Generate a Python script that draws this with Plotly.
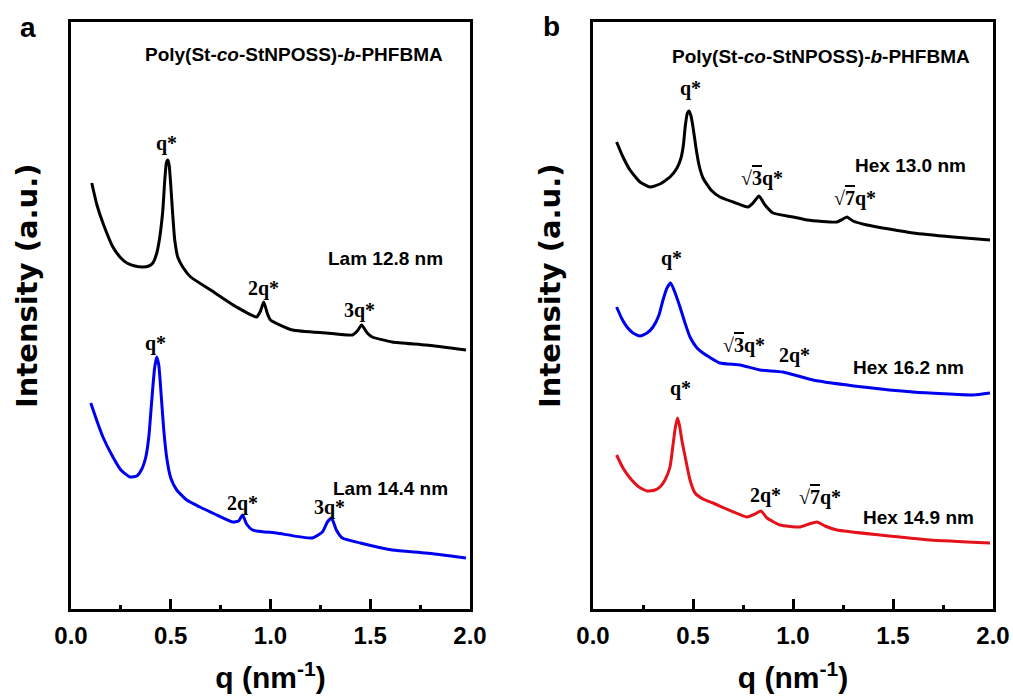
import plotly.graph_objects as go

# ---------------- data ----------------
# Panel a, black curve (Lam 12.8 nm)
qa_black = [0.104, 0.13, 0.16, 0.21, 0.25, 0.28, 0.32, 0.36, 0.39, 0.41, 0.43, 0.445, 0.46, 0.47, 0.478,
            0.485, 0.492, 0.50, 0.51, 0.52, 0.535, 0.56, 0.60, 0.70, 0.83, 0.93, 0.95, 0.966, 0.985, 1.0,
            1.11, 1.28, 1.41, 1.435, 1.457, 1.485, 1.51, 1.61, 1.78, 1.98]
Ia_black = [426, 404, 386, 362, 351, 346, 343, 342, 343, 346, 356, 372, 398, 429, 446,
            449, 444, 424, 394, 369, 352, 342, 332, 319, 302, 292, 298, 307, 295, 289,
            279, 276, 274, 278, 284, 276, 272, 267, 264, 259]

# Panel a, blue curve (Lam 14.4 nm)
qa_blue = [0.099, 0.13, 0.16, 0.21, 0.25, 0.295, 0.33, 0.355, 0.375, 0.39, 0.405, 0.418, 0.429, 0.44,
           0.452, 0.465, 0.48, 0.50, 0.53, 0.58, 0.646, 0.72, 0.81, 0.84, 0.86, 0.88, 0.91, 1.03,
           1.21, 1.26, 1.285, 1.306, 1.33, 1.36, 1.45, 1.61, 1.78, 1.98]
Ia_blue = [206, 188, 172, 152, 139, 132, 133, 140, 152, 172, 209, 239, 252, 244,
           214, 179, 151, 131, 119, 109, 102, 95, 87, 88, 94, 85, 79, 76,
           71, 77, 87, 91, 79, 71, 66, 59, 56, 51]

# Panel b, black curve (Hex 13.0 nm)
qb_black = [0.118, 0.15, 0.185, 0.235, 0.285, 0.335, 0.385, 0.42, 0.44, 0.452, 0.462, 0.472, 0.48, 0.49,
            0.50, 0.515, 0.53, 0.55, 0.59, 0.635, 0.70, 0.775, 0.80, 0.83, 0.86, 0.90, 1.0, 1.07,
            1.22, 1.25, 1.27, 1.30, 1.37, 1.6, 1.8, 1.985]
Ib_black = [467, 452, 439, 427, 422, 425, 432, 441, 451, 464, 484, 496, 498, 493,
            482, 461, 444, 431, 419, 412, 407, 402, 406, 413, 404, 396, 392, 389,
            387, 390, 392, 388, 384, 376, 372, 369]

# Panel b, blue curve (Hex 16.2 nm)
qb_blue = [0.118, 0.145, 0.17, 0.2, 0.235, 0.27, 0.3, 0.33, 0.35, 0.37, 0.388, 0.405, 0.435, 0.46, 0.485,
           0.52, 0.55, 0.635, 0.735, 0.835, 0.95, 1.1, 1.35, 1.6, 1.9, 1.985]
Ib_blue = [302, 290, 282, 276, 273, 276, 282, 294, 309, 321, 326, 319, 302, 286, 272,
           261, 256, 246, 244, 239, 237, 229, 222, 217, 214, 216]

# Panel b, red curve (Hex 14.9 nm)
qb_red = [0.118, 0.15, 0.185, 0.23, 0.27, 0.31, 0.335, 0.36, 0.385, 0.40, 0.412, 0.423, 0.433, 0.445, 0.46,
          0.485, 0.51, 0.55, 0.6, 0.77, 0.81, 0.84, 0.87, 0.935, 1.035, 1.08, 1.12, 1.16, 1.22, 1.435,
          1.685, 1.985]
Ib_red = [154, 141, 131, 122, 118, 119, 122, 129, 142, 164, 182, 191, 183, 168, 153,
          129, 116, 110, 106, 92, 95, 98, 91, 84, 82, 85, 87, 83, 79, 74,
          69, 66]

x_ticks = [0.0, 0.5, 1.0, 1.5, 2.0]
x_ticklabels = ["0.0", "0.5", "1.0", "1.5", "2.0"]

# peak labels: (panel, q, intensity, text)
peak_labels = [
    ("a", 0.48, 466, "q*"), ("a", 0.966, 321, "2q*"), ("a", 1.447, 299, "3q*"),
    ("a", 0.426, 266, "q*"), ("a", 0.861, 106, "2q*"), ("a", 1.297, 102, "3q*"),
    ("b", 0.485, 521, "q*"), ("b", 0.845, 431, "√<span style='text-decoration:overline'>3</span>q*"),
    ("b", 1.31, 411, "√<span style='text-decoration:overline'>7</span>q*"),
    ("b", 0.39, 351, "q*"), ("b", 0.755, 264, "√<span style='text-decoration:overline'>3</span>q*"),
    ("b", 1.005, 254, "2q*"),
    ("b", 0.435, 221, "q*"), ("b", 0.86, 114, "2q*"),
    ("b", 1.135, 112, "√<span style='text-decoration:overline'>7</span>q*"),
]
phase_labels = [
    ("a", 1.577, 351, "Lam 12.8 nm"), ("a", 1.602, 121, "Lam 14.4 nm"),
    ("b", 1.585, 444, "Hex 13.0 nm"), ("b", 1.575, 242, "Hex 16.2 nm"),
    ("b", 1.625, 92, "Hex 14.9 nm"),
]
title_text = "Poly(St-<i>co</i>-StNPOSS)-<i>b</i>-PHFBMA"
y_title = "Intensity (a.u.)"
x_title = "q (nm<sup>-1</sup>)"

# ---------------- figure ----------------
W, H = 1013, 700
SANS = "Liberation Sans, Arial, sans-serif"
SERIF = "Liberation Serif, Times New Roman, serif"

fig = go.Figure()
lw = 3
sm = 0.5
fig.add_trace(go.Scatter(x=qa_black, y=Ia_black, mode="lines", line=dict(color="black", width=lw, shape="spline", smoothing=sm), xaxis="x", yaxis="y"))
fig.add_trace(go.Scatter(x=qa_blue, y=Ia_blue, mode="lines", line=dict(color="#0000f0", width=lw, shape="spline", smoothing=sm), xaxis="x", yaxis="y"))
fig.add_trace(go.Scatter(x=qb_black, y=Ib_black, mode="lines", line=dict(color="black", width=lw, shape="spline", smoothing=sm), xaxis="x2", yaxis="y2"))
fig.add_trace(go.Scatter(x=qb_blue, y=Ib_blue, mode="lines", line=dict(color="#0000f0", width=lw, shape="spline", smoothing=sm), xaxis="x2", yaxis="y2"))
fig.add_trace(go.Scatter(x=qb_red, y=Ib_red, mode="lines", line=dict(color="#e3121b", width=lw, shape="spline", smoothing=sm), xaxis="x2", yaxis="y2"))

ydom = [(700 - 609) / 700, (700 - 22) / 700]
xa_dom = [71 / W, 470 / W]
xb_dom = [593 / W, 993 / W]

def xaxis_cfg(dom, anchor):
    return dict(
        domain=dom, anchor=anchor, range=[0, 2.0], automargin=False,
        tickmode="array", tickvals=x_ticks, ticktext=x_ticklabels,
        ticks="inside", ticklen=10, tickwidth=2.5, tickcolor="black",
        minor=dict(tickmode="linear", tick0=0, dtick=0.25, ticks="inside", ticklen=4, tickwidth=2.5, tickcolor="black"),
        showline=True, linewidth=3, linecolor="black", mirror=True,
        showgrid=False, zeroline=False,
        tickfont=dict(family=SANS, size=24, color="black", weight="bold"),
        ticklabelstandoff=3,
        title=dict(text=x_title, font=dict(family=SANS, size=30, color="black", weight="bold"), standoff=20),
    )

def yaxis_cfg(anchor):
    return dict(
        domain=ydom, anchor=anchor, range=[0, 587], automargin=False,
        showticklabels=False, ticks="",
        showline=True, linewidth=3, linecolor="black", mirror=True,
        showgrid=False, zeroline=False,
    )

fig.update_layout(
    width=W, height=H, margin=dict(l=0, r=0, t=0, b=0, autoexpand=False),
    paper_bgcolor="white", plot_bgcolor="white", showlegend=False,
    xaxis=xaxis_cfg(xa_dom, "y"), yaxis=yaxis_cfg("x"),
    xaxis2=xaxis_cfg(xb_dom, "y2"), yaxis2=yaxis_cfg("x2"),
)

ann = []
for panel, q, I, t in peak_labels:
    ax = "x" if panel == "a" else "x2"
    ay = "y" if panel == "a" else "y2"
    ann.append(dict(x=q, y=I, xref=ax, yref=ay, text="<b>" + t + "</b>", showarrow=False,
                    xanchor="center", yanchor="middle",
                    font=dict(family=SERIF, size=20, color="black")))
for panel, q, I, t in phase_labels:
    ax = "x" if panel == "a" else "x2"
    ay = "y" if panel == "a" else "y2"
    ann.append(dict(x=q, y=I, xref=ax, yref=ay, text="<b>" + t + "</b>", showarrow=False,
                    xanchor="center", yanchor="middle",
                    font=dict(family=SANS, size=19, color="black")))
# in-panel titles
for cx, cy in [((140 + 448) / 2, 55), ((667 + 975) / 2, 57)]:
    ann.append(dict(x=cx / W, y=1 - cy / H, xref="paper", yref="paper", text="<b>" + title_text + "</b>",
                    xanchor="center", yanchor="middle", showarrow=False,
                    font=dict(family=SANS, size=19, color="black")))
# y-axis titles
for cx, cy in [(27, 286), (550, 286)]:
    ann.append(dict(x=cx / W, y=1 - cy / H, xref="paper", yref="paper", text="<b>" + y_title + "</b>",
                    textangle=-90, xanchor="center", yanchor="middle", showarrow=False,
                    font=dict(family="DejaVu Sans, sans-serif", size=29, color="black")))
# panel letters
for cx, cy, t in [(28, 27, "a"), (551, 26, "b")]:
    ann.append(dict(x=cx / W, y=1 - cy / H, xref="paper", yref="paper", text="<b>" + t + "</b>",
                    xanchor="center", yanchor="middle", showarrow=False,
                    font=dict(family=SANS, size=28, color="black")))
fig.update_layout(annotations=ann)

fig.write_html("out.html")
